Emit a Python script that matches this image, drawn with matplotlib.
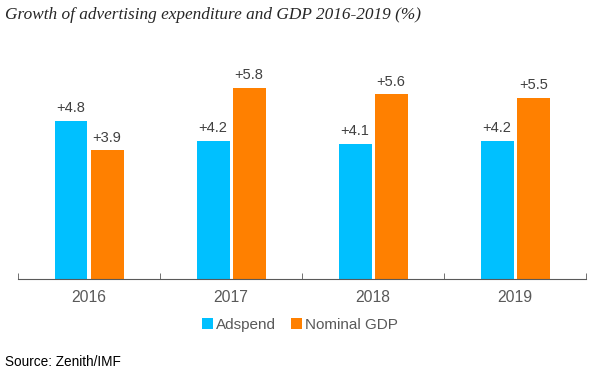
import matplotlib
matplotlib.use('Agg')
import matplotlib.pyplot as plt
import numpy as np
from matplotlib.ticker import FixedLocator

years = ['2016', '2017', '2018', '2019']
adspend = [4.8, 4.2, 4.1, 4.2]
gdp = [3.9, 5.8, 5.6, 5.5]

plt.rcParams['font.family'] = ['Liberation Sans', 'DejaVu Sans']

fig = plt.figure(figsize=(6, 3.75), dpi=100)
ax = fig.add_axes([0.03, 0.256, 0.947, 0.58])

x = np.arange(len(years))
w = 0.232
off = 0.127
b1 = ax.bar(x - off, adspend, w, color='#00C0FF', label='Adspend')
b2 = ax.bar(x + off, gdp, w, color='#FF8000', label='Nominal GDP')

for bars, vals in [(b1, adspend), (b2, gdp)]:
    for b, v in zip(bars, vals):
        ax.annotate('+%.1f' % v, (b.get_x() + b.get_width() / 2, v),
                    xytext=(0, 4), textcoords='offset points',
                    ha='center', va='bottom', fontsize=10.5, color='#404040')

ax.set_xlim(-0.5, 3.5)
ax.set_ylim(0, 6.6)
ax.set_yticks([])
ax.set_xticks(x)
ax.set_xticklabels(years, fontsize=11.3, color='#595959')
ax.tick_params(axis='x', which='major', length=0, pad=8)
ax.xaxis.set_minor_locator(FixedLocator(np.arange(-0.5, 4, 1)))
ax.tick_params(axis='x', which='minor', length=4, direction='in', color='#595959')
for s in ['top', 'right', 'left']:
    ax.spines[s].set_visible(False)
ax.spines['bottom'].set_color('#595959')

fig.text(0.008, 0.96, 'Growth of advertising expenditure and GDP 2016-2019 (%)',
         family='Liberation Serif', style='italic', fontsize=12.4, color='#262626',
         va='center', ha='left')

fig.legend(handles=[b1, b2], loc='center', bbox_to_anchor=(0.5, 0.133), ncol=2,
           frameon=False, fontsize=11, handlelength=0.7, handleheight=0.7,
           handletextpad=0.2, columnspacing=1.0, labelcolor='#595959')

fig.text(0.008, 0.035, 'Source: Zenith/IMF', fontsize=9.8, color='black',
         va='center', ha='left')

fig.savefig('out.png', dpi=100)
